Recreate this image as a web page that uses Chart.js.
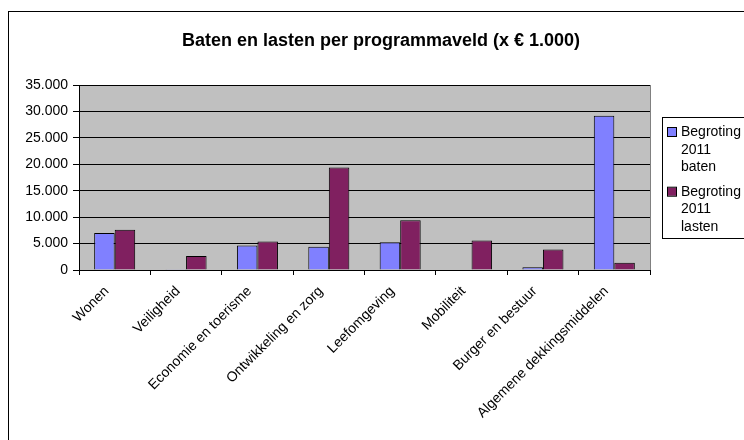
<!DOCTYPE html>
<html>
<head>
<meta charset="utf-8">
<script src="https://cdn.jsdelivr.net/npm/chart.js@4/dist/chart.umd.min.js"></script>
<style>
  html, body { margin: 0; padding: 0; background: #fff; }
  #wrap { width: 744px; height: 440px; }
</style>
</head>
<body>
<div id="wrap"><canvas id="chart" width="744" height="440"></canvas></div>
<script>
// data
const categories = ["Wonen", "Veiligheid", "Economie en toerisme", "Ontwikkeling en zorg",
  "Leefomgeving", "Mobiliteit", "Burger en bestuur", "Algemene dekkingsmiddelen"];
const baten = [7000, 150, 4650, 4400, 5250, 0, 500, 29200];
const lasten = [7600, 2650, 5400, 19400, 9400, 5600, 3900, 1350];
const seriesNames = [["Begroting", "2011", "baten"], ["Begroting", "2011", "lasten"]];
const titleText = "Baten en lasten per programmaveld (x € 1.000)";

const FONT = "'Liberation Sans', Arial, sans-serif";

// grijs plotvlak, buitenkader, titel en legenda
const decor = {
  id: "decor",
  beforeDraw(chart) {
    const { ctx, chartArea: a } = chart;
    ctx.save();
    ctx.fillStyle = "#fff";
    ctx.fillRect(0, 0, chart.width, chart.height);
    ctx.strokeStyle = "#000";
    ctx.lineWidth = 1;
    ctx.strokeRect(8.5, 11.5, 900, 600);
    ctx.fillStyle = "#c0c0c0";
    ctx.fillRect(a.left, a.top, a.right - a.left, a.bottom - a.top);
    ctx.strokeStyle = "#808080";
    ctx.strokeRect(a.left + 0.5, a.top + 0.5, a.right - a.left, a.bottom - a.top);
    ctx.restore();
  },
  afterDraw(chart) {
    const { ctx } = chart;
    ctx.save();
    ctx.fillStyle = "#000";
    ctx.font = "bold 18px " + FONT;
    ctx.textAlign = "center";
    ctx.textBaseline = "middle";
    ctx.fillText(titleText, 381, 41);

    // legenda
    ctx.strokeStyle = "#000";
    ctx.lineWidth = 1;
    ctx.strokeRect(662.5, 117.5, 200, 121);
    ctx.font = "14px " + FONT;
    ctx.textAlign = "left";
    let y = 132;
    chart.data.datasets.forEach(ds => {
      ctx.fillStyle = ds.backgroundColor;
      ctx.fillRect(668, y - 4, 8, 8);
      ctx.strokeRect(667.5, y - 4.5, 9, 9);
      ctx.fillStyle = "#000";
      ds.label.forEach((line, i) => ctx.fillText(line, 681, y + i * 17.8));
      y += 59.7;
    });
    ctx.restore();
  }
};

new Chart(document.getElementById("chart"), {
  type: "bar",
  data: {
    labels: categories,
    datasets: [
      { label: seriesNames[0], data: baten, backgroundColor: "#8080ff", borderColor: "#000", borderWidth: 1 },
      { label: seriesNames[1], data: lasten, backgroundColor: "#802060", borderColor: "#000", borderWidth: 1 }
    ]
  },
  options: {
    responsive: false,
    animation: false,
    layout: { padding: { top: 85, right: 94, left: 0, bottom: 0 } },
    datasets: { bar: { categoryPercentage: 0.575, barPercentage: 1 } },
    plugins: {
      legend: { display: false },
      title: { display: false },
      tooltip: { enabled: false }
    },
    scales: {
      x: {
        offset: true,
        grid: { offset: true, drawOnChartArea: false, color: "#000", tickLength: 5 },
        border: { color: "#000" },
        ticks: {
          color: "#000", font: { family: FONT, size: 14 },
          minRotation: 45, maxRotation: 45, autoSkip: false, padding: 8, labelOffset: -8
        },
        afterFit(scale) { scale.height = 170; }
      },
      y: {
        min: 0, max: 35000,
        grid: { color: "#000", tickLength: 6 },
        border: { color: "#000" },
        ticks: {
          stepSize: 5000, color: "#000", font: { family: FONT, size: 14 }, padding: 5,
          callback: v => v.toLocaleString("nl-NL")
        },
        afterFit(scale) { scale.width = 79; }
      }
    }
  },
  plugins: [decor]
});
</script>
</body>
</html>
